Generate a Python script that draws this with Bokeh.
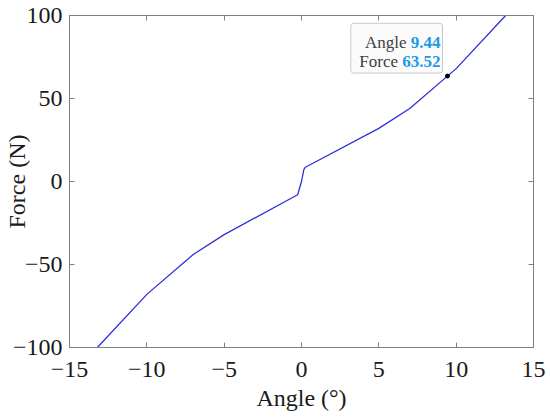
from bokeh.plotting import figure
from bokeh.models import LinearAxis, Label, FixedTicker, Range1d
from bokeh.embed import file_html
from bokeh.resources import INLINE

# Data
angle = [-13.2, -10.0, -7.0, -5.0, -0.25, 0.0, 0.15, 0.25, 5.0, 7.0, 10.0, 13.2]
force = [-100.0, -68.0, -44.0, -32.0, -8.0, 0.0, 7.2, 8.6, 32.0, 44.0, 68.0, 100.0]

tip_angle = 9.44
tip_force = 63.52

x_ticks = [-15, -10, -5, 0, 5, 10, 15]
x_tick_labels = ["\u221215", "\u221210", "\u22125", "0", "5", "10", "15"]
y_ticks = [-100, -50, 0, 50, 100]
y_tick_labels = ["\u2212100", "\u221250", "0", "50", "100"]

FONT = "Liberation Serif"
AXIS_COLOR = "#7f7f7f"
TEXT_COLOR = "#1a1a1a"
BOX_BG = "#fbfbfb"

p = figure(width=548, height=416, output_backend="svg", toolbar_location=None,
           x_range=Range1d(-15, 15), y_range=Range1d(-100, 100),
           min_border_left=69, min_border_right=15, min_border_top=15, min_border_bottom=69)
p.grid.visible = False
p.outline_line_color = AXIS_COLOR
p.background_fill_color = "white"
p.border_fill_color = "white"

p.line(angle, force, line_color="#2f2fd8", line_width=1.3)
p.scatter([tip_angle], [tip_force], size=4, color="black")

def style_axis(ax, ticks, labels, show_labels=True):
    ax.ticker = FixedTicker(ticks=ticks)
    ax.axis_line_color = AXIS_COLOR
    ax.major_tick_line_color = AXIS_COLOR
    ax.major_tick_in = 5
    ax.major_tick_out = 0
    ax.minor_tick_line_color = None
    ax.major_label_text_font = FONT
    if show_labels:
        ax.major_label_overrides = {t: l for t, l in zip(ticks, labels)}
        ax.major_label_text_color = TEXT_COLOR
        ax.major_label_text_font_size = "24px"
    else:
        ax.major_label_text_color = None
        ax.major_label_text_font_size = "1px"
        ax.major_label_standoff = 0

xax = p.xaxis[0]
yax = p.yaxis[0]
style_axis(xax, x_ticks, x_tick_labels)
style_axis(yax, y_ticks, y_tick_labels)
xax.major_label_standoff = 14
yax.major_label_standoff = 7
xax.axis_label = "Angle (\u00b0)"
yax.axis_label = "Force (N)"
for ax in (xax, yax):
    ax.axis_label_text_font = FONT
    ax.axis_label_text_font_size = "24px"
    ax.axis_label_text_font_style = "normal"
    ax.axis_label_text_color = TEXT_COLOR
xax.axis_label_standoff = 5
yax.axis_label_standoff = -20

top = LinearAxis()
style_axis(top, x_ticks, x_tick_labels, show_labels=False)
p.add_layout(top, "above")
right = LinearAxis()
style_axis(right, y_ticks, y_tick_labels, show_labels=False)
p.add_layout(right, "right")

# Data tip
tip_fs = 17
tip_text = f"Angle {tip_angle:.2f}\nForce {tip_force:.2f}"
box = Label(x=tip_angle, y=tip_force, text=tip_text, text_font=FONT,
            text_font_size=f"{tip_fs}px", text_font_style="bold", text_color=BOX_BG,
            text_align="right", text_baseline="bottom", x_offset=-5, y_offset=3,
            background_fill_color=BOX_BG, background_fill_alpha=1.0,
            border_line_color="#c8c8c8", border_line_width=1, padding=4,
            border_radius=3)
p.add_layout(box)

line_y = [33.5, 14.5]
names = ["Angle", "Force"]
vals = [f"{tip_angle:.2f}", f"{tip_force:.2f}"]
for name, val, yo in zip(names, vals, line_y):
    val_w = sum(0.25 if ch == "." else 0.5 for ch in val) * tip_fs
    p.add_layout(Label(x=tip_angle, y=tip_force, text=val, text_font=FONT,
                       text_font_size=f"{tip_fs}px", text_font_style="bold",
                       text_color="#1a9be8", text_align="right",
                       text_baseline="alphabetic", x_offset=-7, y_offset=yo))
    p.add_layout(Label(x=tip_angle, y=tip_force, text=name, text_font=FONT,
                       text_font_size=f"{tip_fs}px", text_color="#404040",
                       text_align="right", text_baseline="alphabetic",
                       x_offset=-7 - val_w - 0.25 * tip_fs, y_offset=yo))

open("out.html", "w").write(file_html(p, INLINE))
